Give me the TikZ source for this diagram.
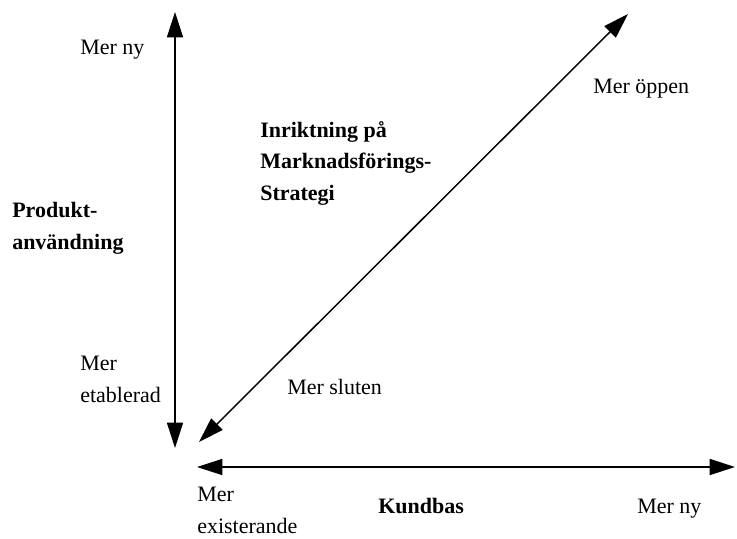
\documentclass[tikz,border=0pt]{standalone}
\usepackage{fontspec}
\setmainfont{Liberation Serif}
\usepackage{tikz}
\usetikzlibrary{arrows.meta, positioning}

\begin{document}
\begin{tikzpicture}[x=0.75pt, y=-0.75pt,
    axis/.style={line width=1.1pt, {Triangle[length=19pt, width=12pt]}-{Triangle[length=19pt, width=12pt]}},
    lbl/.style={anchor=base west, inner sep=0pt, align=left, font=\fontsize{16.5}{23.5}\selectfont},
    hdr/.style={lbl, font=\fontsize{16.5}{23.5}\selectfont\bfseries}]
    \useasboundingbox (0,0) rectangle (737,538);

    % End points of the three axes
    \coordinate (ytop) at (175,12);
    \coordinate (ybot) at (175,448);
    \coordinate (xleft) at (197,467);
    \coordinate (xright) at (735,467);
    \coordinate (dlow) at (199,442);
    \coordinate (dhigh) at (628,14);

    % Axes
    \draw[axis] (ybot) -- (ytop);
    \draw[axis] (xleft) -- (xright);
    \draw[axis] (dlow) -- (dhigh);

    % Vertical axis labels
    \node[lbl] (ynew) at (80,55) {Mer ny};
    \node[hdr] (ytitle) at (12,249) {Produkt-\\användning};
    \node[lbl] (yold) at (80,402) {Mer\\etablerad};

    % Diagonal axis labels
    \node[hdr] (dtitle) at (260,200) {Inriktning på\\Marknadsförings-\\Strategi};
    \node[lbl] (dopen) at (593,94) {Mer öppen};
    \node[lbl] (dclosed) at (287,394) {Mer sluten};

    % Horizontal axis labels
    \node[lbl] (xold) at (197,533) {Mer\\existerande};
    \node[hdr] (xtitle) at (378,513) {Kundbas};
    \node[lbl] (xnew) at (637,513) {Mer ny};
\end{tikzpicture}
\end{document}
